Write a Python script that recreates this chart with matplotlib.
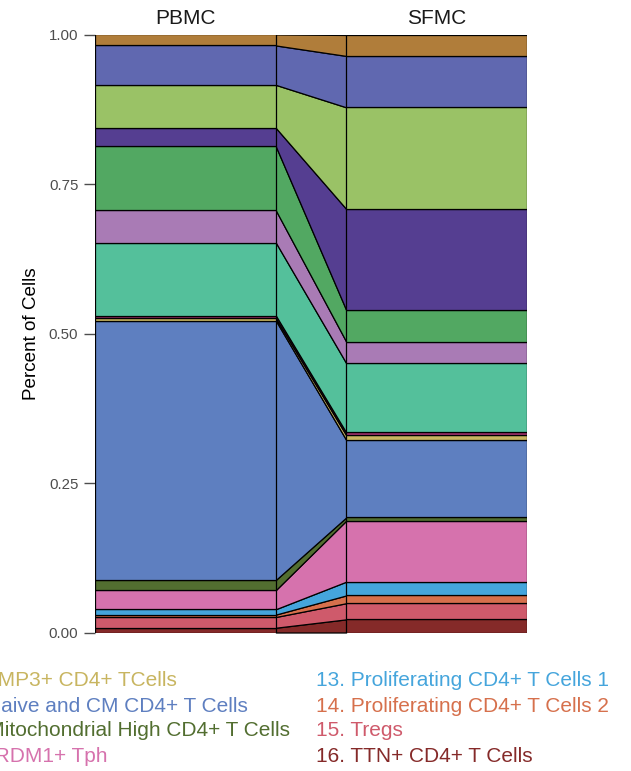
import matplotlib
matplotlib.use("Agg")
import matplotlib.pyplot as plt
import numpy as np

plt.rcParams["font.family"] = ["Liberation Sans", "DejaVu Sans"]

samples = ["PBMC", "SFMC"]

# clusters listed bottom -> top of the stack
clusters = ["16. TTN+ CD4+ T Cells", "15. Tregs", "14. Proliferating CD4+ T Cells 2",
            "13. Proliferating CD4+ T Cells 1", "12. PRDM1+ Tph",
            "11. Mitochondrial High CD4+ T Cells", "10. Naive and CM CD4+ T Cells",
            "9. MMP3+ CD4+ TCells", "8", "7", "6", "5", "4", "3", "2", "1"]
colors = ["#852A29", "#CF5A6B", "#D6704C", "#45A5DC", "#D672AD", "#526E30",
          "#5E7FC0", "#C8B560", "#A3336D", "#54C09B", "#A97BB5", "#52A862",
          "#553E91", "#9AC266", "#6068B0", "#B07D3A"]

pbmc = [0.008, 0.018, 0.004, 0.009, 0.032, 0.017, 0.434, 0.004, 0.0045,
        0.122, 0.054, 0.107, 0.031, 0.072, 0.066, 0.0185]
sfmc = [0.022, 0.027, 0.013, 0.023, 0.102, 0.0055, 0.130, 0.008, 0.0045,
        0.116, 0.036, 0.053, 0.169, 0.170, 0.086, 0.035]

fig = plt.figure(figsize=(6.31, 7.71), dpi=100)
ax = fig.add_axes([95 / 631, 1 - 632.5 / 771, 432 / 631, 597.5 / 771])

width = 0.72
xs = np.arange(len(samples))
bottoms = np.zeros(2)
for i, (c, col) in enumerate(zip(clusters, colors)):
    vals = np.array([pbmc[i], sfmc[i]])
    ax.bar(xs, vals, width, bottom=bottoms, color=col, edgecolor="black",
           linewidth=0.9, zorder=2)
    # ribbon between the two bars
    gx = [xs[0] + width / 2, xs[1] - width / 2]
    ax.fill_between(gx, bottoms, bottoms + vals, facecolor=col,
                    edgecolor="black", linewidth=0.9, zorder=1)
    bottoms = bottoms + vals

ax.plot([xs[0] + width / 2, xs[1] - width / 2], [1, 1], color="#9a9a9a",
        linewidth=1, zorder=0.5)

ax.set_xlim(-width / 2, 1 + width / 2)
ax.set_ylim(0, 1)
for s in ax.spines.values():
    s.set_visible(False)

ax.set_yticks([0, 0.25, 0.5, 0.75, 1.0])
ax.set_yticklabels(["0.00", "0.25", "0.50", "0.75", "1.00"])
ax.tick_params(axis="y", colors="#4d4d4d", labelsize=10.8, length=8, width=1,
               pad=4, left=True)
ax.set_ylabel("Percent of Cells", fontsize=13.6, labelpad=6)

ax.xaxis.tick_top()
ax.set_xticks(xs)
ax.set_xticklabels(samples, fontsize=15, color="#1a1a1a")
ax.tick_params(axis="x", length=0, pad=5)

# legend (cropped on the left in the reference)
rows_y = [680, 706, 731, 757]
left_col = clusters[7:3:-1]   # 9..12
left_ends = [177, 248, 290, 108]
for lab, y, xe in zip(left_col, rows_y, left_ends):
    col = colors[clusters.index(lab)]
    fig.text(xe / 631, 1 - y / 771, lab, ha="right", va="center",
             fontsize=15, color=col)
right_col = clusters[3::-1]  # 13..16
for lab, y in zip(right_col, rows_y):
    col = colors[clusters.index(lab)]
    fig.text(316 / 631, 1 - y / 771, lab, ha="left", va="center",
             fontsize=15, color=col)

fig.savefig("out.png", dpi=100)
